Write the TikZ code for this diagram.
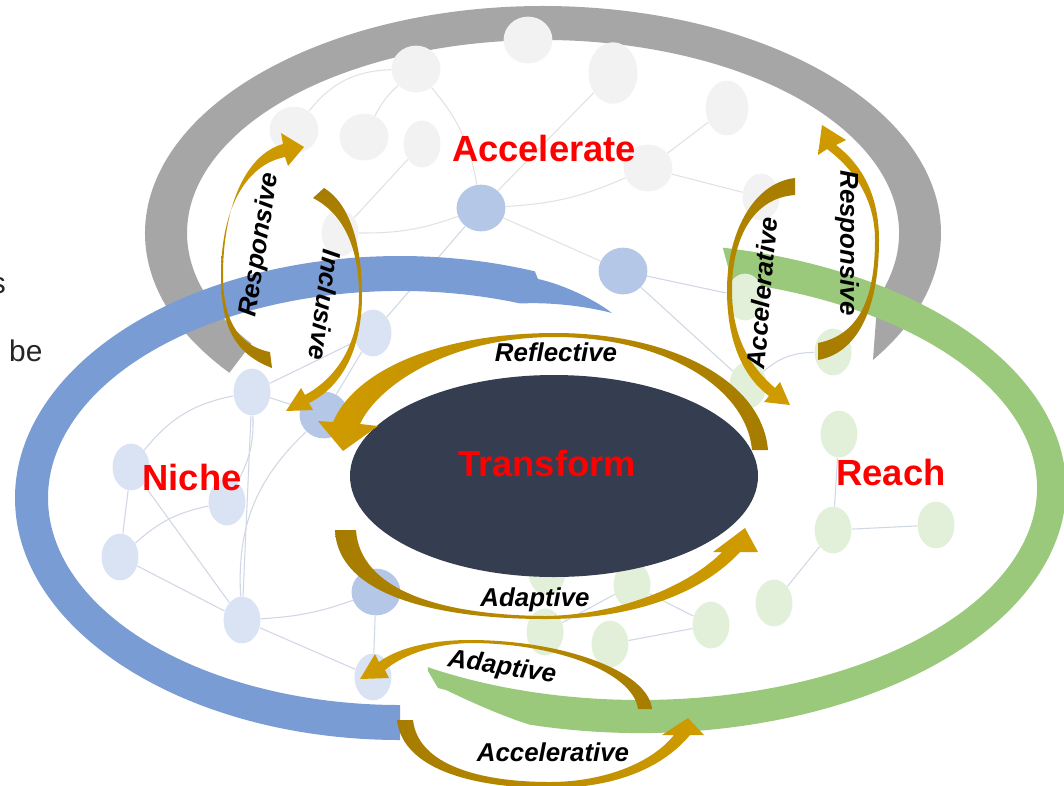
\documentclass[tikz,border=0pt]{standalone}
\usepackage{fontspec}
\setmainfont{Liberation Sans}
\usetikzlibrary{calc,shapes.geometric}
\pgfdeclarelayer{bg}
\pgfdeclarelayer{net}
\pgfsetlayers{bg,net,main}

\definecolor{ringgray}{RGB}{166,166,166}
\definecolor{ringblue}{RGB}{122,156,213}
\definecolor{ringgreen}{RGB}{154,201,124}
\definecolor{bubgray}{RGB}{242,242,242}
\definecolor{bubblue}{RGB}{180,199,231}
\definecolor{bubpale}{RGB}{218,227,243}
\definecolor{bubgreen}{RGB}{226,240,217}
\definecolor{coreslate}{RGB}{52,62,80}
\definecolor{golddark}{RGB}{166,124,0}
\definecolor{goldlight}{RGB}{208,156,0}
\definecolor{netgray}{RGB}{226,226,226}
\definecolor{netblue}{RGB}{208,215,229}

\newcommand\zonefont{\fontsize{20.7}{24}\selectfont\bfseries}
\newcommand\flowfont{\fontsize{14.7}{17}\selectfont\bfseries\itshape}

\begin{document}
\begin{tikzpicture}[ x=0.02cm, y=-0.02cm, bub/.style={ ellipse,
    inner sep=0pt, minimum width=21pt, minimum height=26.6pt },
    slim/.style={}, wide/.style={ minimum width=27.8pt },
    mid/.style={ minimum width=24.4pt, minimum height=31pt },
    tall/.style={ minimum width=27.8pt, minimum height=35pt },
    zone/.style={ text=red, font=\zonefont }, flow/.style={
    font=\flowfont, inner sep=1pt }, net/.style={ line width=0.6pt } ]
  \useasboundingbox (0,0) rectangle (1064,785);
  \clip (0,0) rectangle (1064,785);

  \begin{pgfonlayer}{bg}
    \fill[white] (0,0) rectangle (1064,785);
    \fill[ringgray] ($(543,233)+(142:398 and 227)$)
      arc[start angle=142, end angle=394, x radius=398, y radius=227]
      -- ($(543,233)+(20:356 and 193)$)
      arc[start angle=380, end angle=145, x radius=356, y radius=193] -- cycle;
  \end{pgfonlayer}

  \fill[ringblue] ($(400,498)+(90:385 and 242)$)
    arc[start angle=90, end angle=290.5, x radius=385, y radius=242]
    -- (538,279) .. controls (565,285) and (595,300) .. (612,313)
    .. controls (585,306) and (550,302) .. ($(400,498)+(290:352 and 207)$)
    arc[start angle=290, end angle=90, x radius=352, y radius=207] -- cycle;
  \fill[ringgreen] (428,671) -- (438,688) -- (446,690)
    .. controls (475,704) and (505,717) .. ($(640,488)+(105:426 and 245)$)
    arc[start angle=105, end angle=-78.8, x radius=426, y radius=245]
    -- ($(640,488)+(-76.6:397 and 212)$)
    arc[start angle=-76.6, end angle=122.3, x radius=397, y radius=212] -- cycle;

  \foreach \n/\x/\y/\s in {g1/528/40/wide, g2/416/69/wide, g3/613/73/tall,
    g4/727/108/mid, g5/294/130/wide, g6/364/137/wide, g7/422/144/slim,
    g8/648/168/wide, g9/761/197/slim, g10/340/233/slim}
  \node[bub,\s,fill=bubgray] (\n) at (\x,\y) {};
  \foreach \n/\x/\y in {b1/481/208, b2/623/271, b3/324/415, b4/376/592}
  \node[bub,wide,fill=bubblue] (\n) at (\x,\y) {};
  \foreach \n/\x/\y in {lb1/373/333, lb2/252/392, lb3/131/467, lb4/227/502,
    lb5/120/557, lb6/242/620, lb7/373/677}
  \node[bub,fill=bubpale] (\n) at (\x,\y) {};
  \foreach \n/\x/\y in {gr1/745/297, gr2/833/352, gr3/748/385, gr4/839/434,
    gr5/833/530, gr6/936/525, gr7/774/603, gr8/711/625, gr9/632/585,
    gr10/545/632, gr11/610/644, gr12/547/572}
  \node[bub,fill=bubgreen] (\n) at (\x,\y) {};

  \begin{pgfonlayer}{net}
    \foreach \a/\b/\c in {g2/g5/-25, g2/g6/-10, g2/b1/15, g7/g10/0,
      g10/b1/-10, b1/g3/0, b1/g8/-10, b1/b2/0, g8/g4/0, g8/g9/0}
    \draw[net,netgray] (\a) to[bend left=\c] (\b);
    \foreach \a/\b/\c in {b1/lb1/0, b2/gr1/0, b2/gr3/0, lb2/lb3/-20,
      lb3/lb5/0, lb3/lb6/0, lb5/lb4/15, lb5/lb6/0, lb6/lb7/0, lb2/lb6/0,
      lb4/lb2/-15, lb6/b4/-8, lb2/b3/0, lb2/lb1/0, lb1/b3/0, b4/lb7/0,
      b3/lb6/-25, gr4/gr5/0, gr5/gr6/0, gr5/gr7/0, gr9/gr8/0, gr11/gr8/0,
      gr2/gr3/-20, gr10/gr9/0}
    \draw[net,netblue] (\a) to[bend left=\c] (\b);
  \end{pgfonlayer}

  \fill[coreslate] (554,476) ellipse[x radius=204, y radius=101];

  \shade[left color=goldlight, right color=golddark] (768,450)
    .. controls (762,380) and (670,333) .. (555,333)
    .. controls (440,333) and (355,370) .. (333,422) -- (318,421) -- (343,451)
    -- (378,426) -- (360,424) .. controls (378,385) and (450,337) .. (555,337)
    .. controls (660,337) and (746,385) .. (752,450) -- cycle;
  \shade[left color=golddark, right color=goldlight] (335,530)
    .. controls (338,600) and (450,619) .. (545,619)
    .. controls (640,619) and (705,590) .. (740,552) -- (758,552) -- (745,528)
    -- (713,552) -- (722,552) .. controls (690,585) and (620,615) .. (545,616)
    .. controls (440,615) and (360,590) .. (356,530) -- cycle;
  \shade[left color=goldlight, right color=golddark] (652,709)
    .. controls (648,670) and (560,640) .. (470,640)
    .. controls (425,640) and (395,650) .. (379,662) -- (375,654) -- (360,679)
    -- (389,678) -- (385,670) .. controls (400,657) and (430,644) .. (470,643)
    .. controls (555,643) and (633,672) .. (638,709) -- cycle;
  \shade[left color=golddark, right color=goldlight] (397,720)
    .. controls (403,772) and (480,788) .. (550,788)
    .. controls (620,788) and (665,765) .. (690,735) -- (704,735) -- (688,718)
    -- (662,735) -- (674,735) .. controls (650,765) and (600,782) .. (550,782)
    .. controls (480,782) and (418,765) .. (413,720) -- cycle;
  \shade[top color=goldlight, bottom color=golddark] (272,368)
    .. controls (230,352) and (221,320) .. (221,275)
    .. controls (221,210) and (245,165) .. (285,157) -- (288,166) -- (304,147)
    -- (281,133) -- (283,144) .. controls (244,155) and (223,210) .. (223,275)
    .. controls (223,315) and (235,345) .. (270,352) -- cycle;
  \shade[top color=golddark, bottom color=goldlight] (324,188)
    .. controls (352,205) and (362,250) .. (362,295)
    .. controls (362,345) and (345,385) .. (309,403) -- (313,410) -- (286,411)
    -- (301,388) -- (305,395) .. controls (340,376) and (359,340) .. (359,295)
    .. controls (359,252) and (346,215) .. (313,198) -- cycle;
  \shade[top color=golddark, bottom color=goldlight] (795,178)
    .. controls (752,183) and (727,235) .. (727,290)
    .. controls (727,345) and (745,378) .. (769,396) -- (764,402) -- (790,405)
    -- (780,382) -- (775,388) .. controls (752,368) and (732,340) .. (732,290)
    .. controls (732,240) and (752,198) .. (795,195) -- cycle;
  \shade[top color=goldlight, bottom color=golddark] (818,360)
    .. controls (862,352) and (879,300) .. (879,240)
    .. controls (879,195) and (862,165) .. (836,145) -- (846,140) -- (822,125)
    -- (818,155) -- (827,149) .. controls (855,170) and (875,200) .. (875,240)
    .. controls (875,300) and (858,335) .. (818,343) -- cycle;

  \node[zone] (acc) at (544,148) {Accelerate};
  \node[zone] (niche) at (192,477) {Niche};
  \node[zone] (reach) at (891,472) {Reach};
  \node[zone] (core) at (547,463) {Transform};
  \node[flow] (refl) at (556,352) {Reflective};
  \node[flow] (adpt) at (535,600) {Adaptive};
  \node[flow,rotate=-9] (adpt2) at (502,668) {Adaptive};
  \node[flow] (accl) at (553,752) {Accelerative};
  \node[flow,rotate=81] (resp) at (260,245) {Responsive};
  \node[flow,rotate=-98] (incl) at (325,305) {Inclusive};
  \node[flow,rotate=85] (accl2) at (762,293) {Accelerative};
  \node[flow,rotate=-90] (resp2) at (847,243) {Responsive};
  \node[anchor=base east,font=\fontsize{17}{20}\selectfont,text=black!85]
    (frag) at (12,293) {s};
  \node[anchor=base west,font=\fontsize{17}{20}\selectfont,text=black!85]
    (frag2) at (3,361) {be};
\end{tikzpicture}
\end{document}
